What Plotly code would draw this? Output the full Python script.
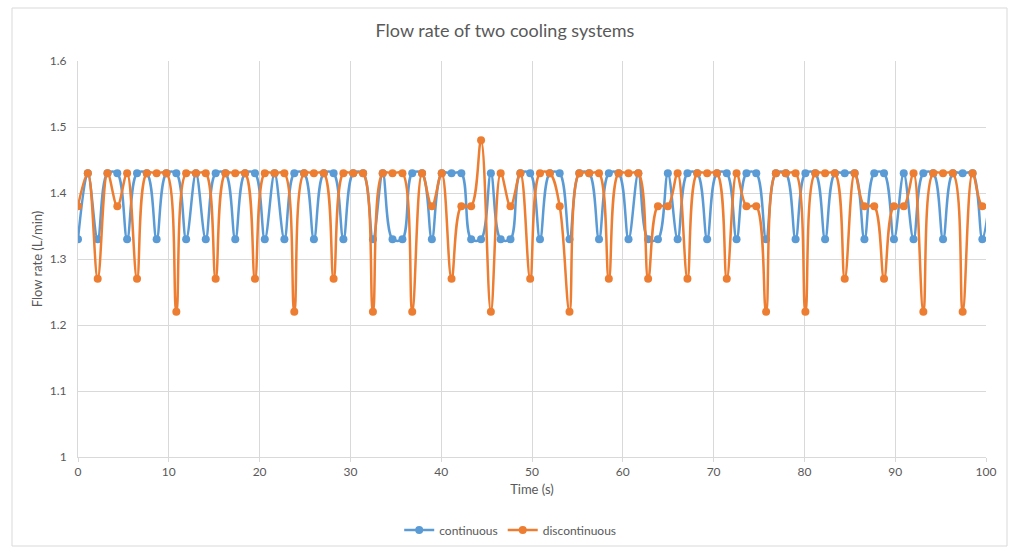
import plotly.graph_objects as go

time_s = [0.00, 1.08, 2.17, 3.25, 4.33, 5.41, 6.50, 7.58, 8.66, 9.74,
          10.83, 11.91, 12.99, 14.07, 15.16, 16.24, 17.32, 18.40, 19.49, 20.57,
          21.65, 22.73, 23.82, 24.90, 25.98, 27.07, 28.15, 29.23, 30.31, 31.40,
          32.48, 33.56, 34.64, 35.73, 36.81, 37.89, 38.97, 40.06, 41.14, 42.22,
          43.30, 44.39, 45.47, 46.55, 47.63, 48.72, 49.80, 50.88, 51.96, 53.05,
          54.13, 55.21, 56.30, 57.38, 58.46, 59.54, 60.63, 61.71, 62.79, 63.87,
          64.96, 66.04, 67.12, 68.20, 69.29, 70.37, 71.45, 72.53, 73.62, 74.70,
          75.78, 76.86, 77.95, 79.03, 80.11, 81.20, 82.28, 83.36, 84.44, 85.53,
          86.61, 87.69, 88.77, 89.86, 90.94, 92.02, 93.10, 94.19, 95.27, 96.35,
          97.43, 98.52, 99.60, 100.68]

continuous = [1.33, 1.43, 1.33, 1.43, 1.43, 1.33, 1.43, 1.43, 1.33, 1.43,
              1.43, 1.33, 1.43, 1.33, 1.43, 1.43, 1.33, 1.43, 1.43, 1.33,
              1.43, 1.33, 1.43, 1.43, 1.33, 1.43, 1.43, 1.33, 1.43, 1.43,
              1.33, 1.43, 1.33, 1.33, 1.43, 1.43, 1.33, 1.43, 1.43, 1.43,
              1.33, 1.33, 1.43, 1.33, 1.33, 1.43, 1.43, 1.33, 1.43, 1.43,
              1.33, 1.43, 1.43, 1.33, 1.43, 1.43, 1.33, 1.43, 1.33, 1.33,
              1.43, 1.33, 1.43, 1.43, 1.33, 1.43, 1.43, 1.33, 1.43, 1.43,
              1.33, 1.43, 1.43, 1.33, 1.43, 1.43, 1.33, 1.43, 1.43, 1.43,
              1.33, 1.43, 1.43, 1.33, 1.43, 1.33, 1.43, 1.43, 1.33, 1.43,
              1.43, 1.43, 1.33, 1.43]

discontinuous = [1.38, 1.43, 1.27, 1.43, 1.38, 1.43, 1.27, 1.43, 1.43, 1.43,
                 1.22, 1.43, 1.43, 1.43, 1.27, 1.43, 1.43, 1.43, 1.27, 1.43,
                 1.43, 1.43, 1.22, 1.43, 1.43, 1.43, 1.27, 1.43, 1.43, 1.43,
                 1.22, 1.43, 1.43, 1.43, 1.22, 1.43, 1.38, 1.43, 1.27, 1.38,
                 1.38, 1.48, 1.22, 1.43, 1.38, 1.43, 1.27, 1.43, 1.43, 1.38,
                 1.22, 1.43, 1.43, 1.43, 1.27, 1.43, 1.43, 1.43, 1.27, 1.38,
                 1.38, 1.43, 1.27, 1.43, 1.43, 1.43, 1.27, 1.43, 1.38, 1.38,
                 1.22, 1.43, 1.43, 1.43, 1.22, 1.43, 1.43, 1.43, 1.27, 1.43,
                 1.38, 1.38, 1.27, 1.38, 1.38, 1.43, 1.22, 1.43, 1.43, 1.43,
                 1.22, 1.43, 1.38, 1.38]

x_ticks = [0, 10, 20, 30, 40, 50, 60, 70, 80, 90, 100]
y_ticks = [1, 1.1, 1.2, 1.3, 1.4, 1.5, 1.6]

BLUE = "#5B9BD5"
ORANGE = "#ED7D31"
TXT = "#595959"
GRID = "#d9d9d9"
FONT = "Lato, 'Open Sans', sans-serif"

fig = go.Figure()
fig.add_trace(go.Scatter(x=time_s, y=continuous, name="continuous",
                         mode="lines+markers",
                         line=dict(color=BLUE, width=2.5, shape="spline", smoothing=1),
                         marker=dict(color=BLUE, size=8)))
fig.add_trace(go.Scatter(x=time_s, y=discontinuous, name="discontinuous",
                         mode="lines+markers",
                         line=dict(color=ORANGE, width=2.5, shape="spline", smoothing=1),
                         marker=dict(color=ORANGE, size=8)))

L, R, T, B = 78, 24, 61, 90
W, H = 1010, 547
pw, ph = W - L - R, H - T - B

def px(xp):
    return (xp - L) / pw

def py(yp):
    return (H - B - yp) / ph

fig.update_layout(
    width=W, height=H,
    margin=dict(l=L, r=R, t=T, b=B, autoexpand=False),
    paper_bgcolor="white", plot_bgcolor="white",
    font=dict(family=FONT, color=TXT, size=12),
    title=dict(text="Flow rate of two cooling systems", x=0.5, xanchor="center",
               y=1 - 31 / H, yanchor="middle",
               font=dict(family=FONT, size=18, color=TXT)),
    showlegend=True,
    legend=dict(orientation="h", x=0.476, xanchor="center", y=py(530), yanchor="middle",
                font=dict(size=12, color=TXT), bgcolor="rgba(0,0,0,0)"),
    xaxis=dict(range=[0, 100], tickvals=x_ticks, showgrid=True, gridcolor=GRID, gridwidth=1,
               showline=True, linecolor=GRID, linewidth=1, zeroline=False,
               ticks="outside", ticklen=4, tickcolor=GRID, automargin=False,
               tickfont=dict(size=12, color=TXT),
               title=dict(text="Time (s)", font=dict(size=13, color=TXT), standoff=6)),
    yaxis=dict(range=[1, 1.6], tickvals=y_ticks, showgrid=True, gridcolor=GRID, gridwidth=1,
               showline=True, linecolor=GRID, linewidth=1, zeroline=False,
               ticks="", ticklabelstandoff=8, automargin=False,
               tickfont=dict(size=12, color=TXT),
               title=dict(text="Flow rate (L/min)", font=dict(size=13, color=TXT), standoff=4)),
    shapes=[dict(type="rect", xref="paper", yref="paper",
                 x0=px(12), x1=px(1007), y0=py(546), y1=py(8),
                 line=dict(color=GRID, width=1), fillcolor="rgba(0,0,0,0)", layer="below")],
)

fig.write_html("out.html")
